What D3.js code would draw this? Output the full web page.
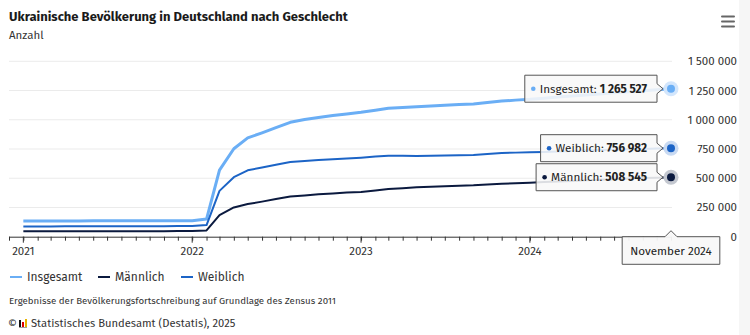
<!DOCTYPE html>
<html><head><meta charset="utf-8">
<script src="https://cdn.jsdelivr.net/npm/d3@7"></script>
<style>
body{margin:0;background:#fff;}
svg{display:block;font-family:"Fira Sans","Noto Sans","Open Sans",sans-serif;}
</style>
</head><body>
<svg id="c" width="750" height="335"></svg>
<script>
// ---- data ----
const months = [
 "2021-01","2021-02","2021-03","2021-04","2021-05","2021-06","2021-07","2021-08","2021-09","2021-10","2021-11","2021-12",
 "2022-01","2022-02","2022-03","2022-04","2022-05","2022-06","2022-07","2022-08","2022-09","2022-10","2022-11","2022-12",
 "2023-01","2023-02","2023-03","2023-04","2023-05","2023-06","2023-07","2023-08","2023-09","2023-10","2023-11","2023-12",
 "2024-01","2024-02","2024-03","2024-04","2024-05","2024-06","2024-07","2024-08","2024-09","2024-10","2024-11"];
const insgesamt = [
 134000,134300,134600,134900,135100,135400,135600,135900,136100,136400,136600,136900,
 137200,151000,570000,752000,845000,888000,932000,978000,1002000,1020000,1036000,1050000,
 1064000,1082000,1098000,1105000,1112000,1118000,1124000,1130000,1135000,1148000,1160000,1168000,
 1175000,1185000,1195000,1203000,1212000,1221000,1230000,1240000,1248000,1257000,1265527];
const weiblich = [
 87500,87800,88100,88400,88600,88900,89100,89400,89600,89900,90200,90500,
 90800,99500,392000,509000,568000,592000,616000,639000,648000,655000,662000,669000,
 676000,685000,693000,692000,690000,693000,695000,697000,699000,708000,716000,719000,
 722000,725000,729000,733000,737000,741000,744000,748000,751000,754000,756982];
const maennlich = [
 46500,46600,46700,46800,46900,47000,47100,47200,47300,47400,47500,47700,
 47900,53800,185000,250000,279000,300000,322000,343000,353000,362000,370000,377000,
 382000,395000,408000,415000,422000,427000,432000,436000,440000,447000,453000,458000,
 462000,467000,472000,477000,482000,487000,492000,497000,501000,505000,508545];
const seriesNames = ["Insgesamt","Männlich","Weiblich"];
const seriesColors = ["#6aaef5","#0b1a3f","#1c64c6"];
const seriesHalo = ["#d3e6fc","#c4c8d0","#c9daf2"];
const yTicks = [0,250000,500000,750000,1000000,1250000,1500000];
const xYearTicks = ["2021","2022","2023","2024"];
const title = "Ukrainische Bevölkerung in Deutschland nach Geschlecht";
const subtitle = "Anzahl";
const note = "Ergebnisse der Bevölkerungsfortschreibung auf Grundlage des Zensus 2011";
const source = "Statistisches Bundesamt (Destatis), 2025";
const tooltipDate = "November 2024";

// ---- setup ----
const svg = d3.select("#c");
const parse = d3.timeParse("%Y-%m");
const dates = months.map(parse);
const loc = d3.formatLocale({decimal:",",thousands:" ",grouping:[3],currency:["","€"]});
const fmt = loc.format(",d");

svg.append("rect").attr("x",0).attr("y",0).attr("width",750).attr("height",335).attr("fill","#fff");
svg.append("rect").attr("x",739).attr("y",0).attr("width",11).attr("height",335).attr("fill","#f6f6f6");

const x = d3.scaleTime().domain([new Date(2020,11,1), new Date(2024,10,1)]).range([9,671]);
const y = d3.scaleLinear().domain([0,1500000]).range([236.7,61.3]);

// title
svg.append("text").attr("x",9).attr("y",21).attr("font-size",13).attr("font-weight",700).attr("fill","#1a1a1a").text(title);
svg.append("text").attr("x",9).attr("y",39).attr("font-size",11.5).attr("fill","#333").text(subtitle);

// hamburger
[0,5,10].forEach(d=>svg.append("rect").attr("x",721).attr("y",15.5+d).attr("width",14).attr("height",2).attr("rx",1).attr("fill","#666"));

// grid + y labels
const ga = svg.append("g");
ga.selectAll("line.g").data(yTicks.filter(d=>d>0)).join("line")
  .attr("x1",9).attr("x2",672).attr("y1",d=>y(d)).attr("y2",d=>y(d))
  .attr("stroke","#ebebeb").attr("stroke-width",1);
ga.selectAll("text.yl").data(yTicks).join("text")
  .attr("x",737).attr("y",d=>y(d)).attr("dy","0.35em").attr("text-anchor","end")
  .attr("font-size",11.5).attr("fill","#333").text(d=>fmt(d));

// x axis
const xAxis = d3.axisBottom(x).ticks(d3.timeMonth.every(1)).tickSize(4).tickFormat("");
const gx = svg.append("g").attr("transform","translate(0,236.7)").call(xAxis);
gx.select(".domain").attr("stroke","#333").attr("d","M9,0.5H672");
gx.selectAll(".tick line").attr("stroke","#333");
const years = xYearTicks.map(d=>d3.timeParse("%Y")(d));
gx.selectAll(".yt").data(years).join("line").attr("x1",d=>x(d)).attr("x2",d=>x(d)).attr("y1",0).attr("y2",6).attr("stroke","#333");
svg.selectAll(".xl").data(years).join("text")
  .attr("x",d=>x(d)).attr("y",255).attr("text-anchor","middle").attr("font-size",11.5).attr("fill","#333")
  .text((d,i)=>xYearTicks[i]);

// lines
const allSeries = [insgesamt, maennlich, weiblich];
const widths = [3,2,2];
const line = d3.line().x((d,i)=>x(dates[i])).y(d=>y(d));
const drawOrder = [0,2,1];
drawOrder.forEach(k=>{
  svg.append("path").datum(allSeries[k]).attr("d",line).attr("fill","none")
    .attr("stroke",seriesColors[k]).attr("stroke-width",widths[k]).attr("stroke-linejoin","round");
});

// legend
const legX = [10,98,181];
seriesNames.forEach((n,i)=>{
  svg.append("line").attr("x1",legX[i]).attr("x2",legX[i]+12).attr("y1",277).attr("y2",277)
    .attr("stroke",seriesColors[i]).attr("stroke-width",2);
  svg.append("text").attr("x",legX[i]+17).attr("y",281).attr("font-size",12).attr("fill","#333").text(n);
});

// footer
svg.append("text").attr("x",9).attr("y",304).attr("font-size",9.7).attr("fill","#333").text(note);
svg.append("text").attr("x",8).attr("y",327).attr("font-size",11).attr("fill","#333").text("©");
const lg = svg.append("g").attr("transform","translate(19,318)");
lg.append("rect").attr("x",0).attr("y",2).attr("width",2).attr("height",7).attr("fill","#111");
lg.append("rect").attr("x",3).attr("y",4).attr("width",2).attr("height",5).attr("fill","#d00");
lg.append("rect").attr("x",6).attr("y",1).attr("width",2).attr("height",8).attr("fill","#e8b400");
lg.append("rect").attr("x",0).attr("y",9).attr("width",8).attr("height",0.8).attr("fill","#888");
svg.append("text").attr("x",31).attr("y",327).attr("font-size",11.2).attr("fill","#333").text(source);

// end dots + tooltips
const lastI = months.length-1;
const xe = x(dates[lastI]);
[0,2,1].forEach(k=>{
  const v = allSeries[k][lastI], ye = y(v);
  const g = svg.append("g");
  const t = g.append("text").attr("y",ye).attr("dy","0.35em").attr("font-size",11.7).attr("fill","#222");
  t.append("tspan").text(seriesNames[k]+": ");
  t.append("tspan").attr("font-weight",700).text(fmt(v));
  const tw = t.node().getComputedTextLength();
  const right = xe-14, left = right - (tw+25), top = ye-13.5, bot = ye+13.5;
  t.attr("x", left+15);
  const p = `M${left},${top}H${right}V${ye-5}L${right+6},${ye}L${right},${ye+5}V${bot}H${left}Z`;
  g.insert("path","text").attr("d",p).attr("fill","rgba(248,248,248,0.88)").attr("stroke","#555").attr("stroke-width",1);
  g.append("circle").attr("cx",left+8.5).attr("cy",ye).attr("r",2.3).attr("fill",seriesColors[k]);
  svg.append("circle").attr("cx",xe).attr("cy",ye).attr("r",7.5).attr("fill",seriesHalo[k]);
  svg.append("circle").attr("cx",xe).attr("cy",ye).attr("r",4).attr("fill",seriesColors[k]);
});

// date tooltip
const tg = svg.append("g");
const tt = tg.append("text").attr("x",xe).attr("y",255).attr("text-anchor","middle").attr("font-size",11.7).attr("fill","#222").text(tooltipDate);
const tw2 = tt.node().getComputedTextLength();
const l2 = xe-(tw2/2+8), r2 = xe+(tw2/2+8), t2 = 236.7, b2 = 264.3;
tg.insert("path","text").attr("d",`M${l2},${t2}H${xe-6}L${xe},${t2-6}L${xe+6},${t2}H${r2}V${b2}H${l2}Z`)
  .attr("fill","rgba(248,248,248,0.95)").attr("stroke","#555").attr("stroke-width",1);
</script>
</body></html>
